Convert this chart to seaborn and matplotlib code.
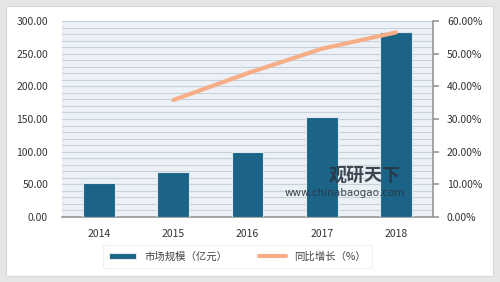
import matplotlib
matplotlib.use("Agg")
import matplotlib.pyplot as plt
import seaborn as sns
import pandas as pd
from matplotlib.patches import Rectangle
from matplotlib.ticker import MultipleLocator, FuncFormatter, NullLocator

years = ["2014", "2015", "2016", "2017", "2018"]
market_size = [51.5, 69.5, 100.0, 152.5, 283.5]
growth_years = ["2015", "2016", "2017", "2018"]
growth_pct = [35.8, 44.0, 51.5, 56.5]

bar_label = "市场规模（亿元）"
line_label = "同比增长（%）"

sns.set_theme(style="white")
plt.rcParams['font.family'] = ['Noto Sans CJK SC', 'DejaVu Sans']

df_bar = pd.DataFrame({"year": years, "size": market_size})
df_line = pd.DataFrame({"year": growth_years, "pct": growth_pct})
df_line["pos"] = [years.index(y) for y in growth_years]

fig = plt.figure(figsize=(5.0, 2.82), dpi=100, facecolor="#e6e6e6")
bg = Rectangle((0.012, 0.02), 0.974, 0.96, transform=fig.transFigure,
               facecolor="white", edgecolor="#d8d8d8", linewidth=0.8, zorder=-10)
fig.patches.append(bg)

ax = fig.add_axes([0.124, 0.2305, 0.742, 0.695])
ax.set_facecolor("#ebf1f7")

sns.barplot(data=df_bar, x="year", y="size", color="#1b6487", width=0.43,
            edgecolor="#dfe8ee", linewidth=0.8, ax=ax, label=bar_label, saturation=1, zorder=3)
ax.set_ylim(0, 300)
ax.set_xlim(-0.5, 4.5)
ax.yaxis.set_major_locator(MultipleLocator(50))
ax.yaxis.set_minor_locator(MultipleLocator(10))
ax.yaxis.set_major_formatter(FuncFormatter(lambda v, p: f"{v:.2f}"))
ax.grid(True, which="both", axis="y", color="#c9d0d7", linewidth=0.8, zorder=0)
ax.set_axisbelow(True)
ax.set_xlabel("")
ax.set_ylabel("")
for s in ["top", "left", "right"]:
    ax.spines[s].set_visible(False)
ax.spines["bottom"].set_color("#9a9a9a")
ax.tick_params(axis="both", which="both", labelsize=7.5, colors="#333333", length=0)
ax.tick_params(axis="y", pad=10)
ax.tick_params(axis="x", pad=9)

ax2 = ax.twinx()
sns.lineplot(data=df_line, x="pos", y="pct", color="#f7ae86", linewidth=3,
             ax=ax2, label=line_label, zorder=4)
ax2.set_ylim(0, 60)
ax2.yaxis.set_major_locator(MultipleLocator(10))
ax2.yaxis.set_minor_locator(NullLocator())
ax2.yaxis.set_major_formatter(FuncFormatter(lambda v, p: f"{v:.2f}%"))
ax2.set_xlabel("")
ax2.set_ylabel("")
for s in ["top", "left", "bottom"]:
    ax2.spines[s].set_visible(False)
ax2.spines["right"].set_color("#9a9a9a")
ax2.tick_params(axis="y", labelsize=7.5, colors="#333333", length=4, color="#9a9a9a", pad=6)
ax2.set_xlim(-0.5, 4.5)

h1, l1 = ax.get_legend_handles_labels()
h2, l2 = ax2.get_legend_handles_labels()
if ax2.get_legend():
    ax2.get_legend().remove()
if ax.get_legend():
    ax.get_legend().remove()
leg = fig.legend(h1 + h2, l1 + l2, loc="center", bbox_to_anchor=(0.475, 0.09), ncol=2,
                 fontsize=7.5, frameon=True, fancybox=False, handlelength=2.6,
                 handleheight=0.6, columnspacing=3.0, borderpad=0.6)
leg.get_frame().set_edgecolor("#eeeeee")
leg.get_frame().set_linewidth(0.8)
for t in leg.get_texts():
    t.set_color("#444444")

# watermark
fig.text(0.73, 0.38, "观研天下", fontsize=13, fontweight="bold", color="#2a3440",
         ha="center", va="center", alpha=0.9, zorder=10)
fig.text(0.69, 0.316, "www.chinabaogao.com", fontsize=7.5, color="#2a3440",
         ha="center", va="center", alpha=0.9, zorder=10, family=["DejaVu Sans"])

fig.savefig("out.png", dpi=100, facecolor=fig.get_facecolor())
